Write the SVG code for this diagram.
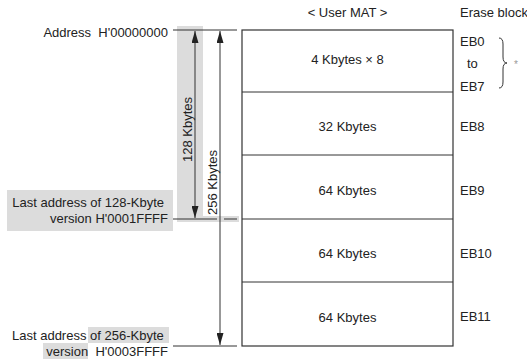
<svg xmlns="http://www.w3.org/2000/svg" width="527" height="359" viewBox="0 0 527 359">
<style>
text{font-family:"Liberation Sans",Arial,sans-serif;font-size:13px;fill:#222}
.mid{text-anchor:middle}
.end{text-anchor:end}
.ln{stroke:#333;stroke-width:1;fill:none}
.box{stroke:#333;stroke-width:1.2;fill:#fff}
.hl{fill:#dcdcdc}
</style>
<defs>
<marker id="ah" viewBox="0 0 12 7" refX="12" refY="3.5" markerWidth="12" markerHeight="7" markerUnits="userSpaceOnUse" orient="auto-start-reverse">
<path d="M0,0 L12,3.5 L0,7 Z" fill="#222"/>
</marker>
</defs>
<rect width="527" height="359" fill="#fff"/>
<g id="highlights">
<rect class="hl" x="177" y="26" width="26" height="196"/>
<rect class="hl" x="203" y="216" width="36" height="6"/>
<rect class="hl" x="7" y="190" width="166" height="41"/>
<rect class="hl" x="88" y="327" width="81" height="16"/>
<rect class="hl" x="43" y="343" width="45" height="16"/>
</g>
<g id="header">
<text class="mid" x="347.5" y="17">&lt; User MAT &gt;</text>
<text x="460" y="17">Erase block</text>
</g>
<g id="mat">
<rect class="box" x="242" y="30" width="211" height="316"/>
<line class="ln" x1="242" y1="92" x2="453" y2="92"/>
<line class="ln" x1="242" y1="155" x2="453" y2="155"/>
<line class="ln" x1="242" y1="219" x2="453" y2="219"/>
<line class="ln" x1="242" y1="282" x2="453" y2="282"/>
</g>
<g id="eb0-7">
<text class="mid" x="347.5" y="64">4 Kbytes × 8</text>
<text x="460" y="45.5">EB0</text>
<text x="467" y="67.5">to</text>
<text x="460" y="90.5">EB7</text>
<path class="ln" d="M499,38 Q503,38 503,44 L503,57 Q503,63 507,63 Q503,63 503,69 L503,82 Q503,88 499,88" stroke-width="0.9"/>
<text x="514" y="68" style="font-size:10px;fill:#999">*</text>
</g>
<g id="eb8">
<text class="mid" x="347.5" y="131">32 Kbytes</text>
<text x="460" y="131">EB8</text>
</g>
<g id="eb9">
<text class="mid" x="347.5" y="194.5">64 Kbytes</text>
<text x="460" y="194.5">EB9</text>
</g>
<g id="eb10">
<text class="mid" x="347.5" y="257.5">64 Kbytes</text>
<text x="460" y="257.5">EB10</text>
</g>
<g id="eb11">
<text class="mid" x="347.5" y="322">64 Kbytes</text>
<text x="460" y="321">EB11</text>
</g>
<g id="labels">
<text class="end" x="168" y="37" xml:space="preserve">Address  H'00000000</text>
<text class="end" x="164" y="207">Last address of 128-Kbyte</text>
<text class="end" x="168" y="223">version H'0001FFFF</text>
<text x="12" y="340">Last address of 256-Kbyte</text>
<text class="end" x="168" y="356" xml:space="preserve">version  H'0003FFFF</text>
</g>
<g id="connectors">
<line class="ln" x1="173" y1="30" x2="237" y2="30"/>
<line class="ln" x1="173" y1="219" x2="217" y2="219"/>
<line class="ln" x1="224" y1="219" x2="237" y2="219"/>
<line class="ln" x1="173" y1="346" x2="237" y2="346"/>
<line class="ln" x1="195" y1="31" x2="195" y2="218" marker-start="url(#ah)" marker-end="url(#ah)"/>
<line class="ln" x1="220" y1="31" x2="220" y2="345" marker-start="url(#ah)" marker-end="url(#ah)"/>
</g>
<g id="dims">
<text class="mid" transform="translate(192.3,129.5) rotate(-90)">128 Kbytes</text>
<text class="mid" transform="translate(216.5,182.5) rotate(-90)">256 Kbytes</text>
</g>
</svg>
